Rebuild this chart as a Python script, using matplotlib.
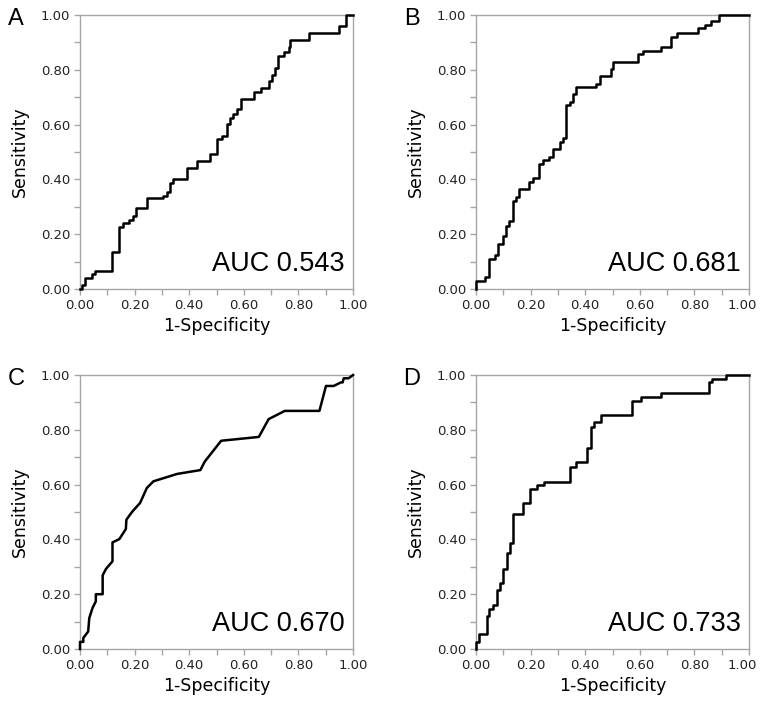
import numpy as np
import matplotlib.pyplot as plt
import matplotlib.transforms as mtransforms
from matplotlib.ticker import MultipleLocator, FormatStrFormatter

# ROC curve corners (1-specificity, sensitivity)
fpr_a = [0.0, 0.006, 0.018, 0.043, 0.055, 0.116, 0.144, 0.156, 0.181, 0.193, 0.205,
         0.244, 0.303, 0.318, 0.330, 0.340, 0.391, 0.428, 0.477, 0.501, 0.520, 0.538,
         0.550, 0.562, 0.575, 0.589, 0.638, 0.663, 0.693, 0.705, 0.713, 0.727, 0.746,
         0.764, 0.770, 0.837, 0.947, 0.976, 1.0]
tpr_a = [0.0, 0.015, 0.041, 0.054, 0.067, 0.134, 0.227, 0.240, 0.252, 0.268, 0.294,
         0.333, 0.341, 0.353, 0.386, 0.401, 0.440, 0.467, 0.493, 0.546, 0.560, 0.601,
         0.625, 0.639, 0.657, 0.692, 0.720, 0.732, 0.760, 0.780, 0.805, 0.851, 0.866,
         0.884, 0.909, 0.933, 0.960, 1.0, 1.0]

fpr_b = [0.0, 0.0, 0.033, 0.049, 0.070, 0.082, 0.098, 0.110, 0.122, 0.134, 0.146,
         0.159, 0.195, 0.207, 0.232, 0.244, 0.268, 0.283, 0.307, 0.320, 0.329, 0.344,
         0.356, 0.368, 0.441, 0.456, 0.493, 0.502, 0.594, 0.612, 0.679, 0.713, 0.738,
         0.813, 0.838, 0.862, 0.890, 1.0]
tpr_b = [0.0, 0.030, 0.045, 0.109, 0.125, 0.164, 0.192, 0.231, 0.247, 0.322, 0.337,
         0.365, 0.389, 0.405, 0.458, 0.470, 0.482, 0.510, 0.537, 0.550, 0.672, 0.683,
         0.711, 0.738, 0.750, 0.778, 0.804, 0.830, 0.857, 0.869, 0.883, 0.921, 0.936,
         0.951, 0.964, 0.978, 1.0, 1.0]

# panel C is a smoothed (tied) curve, drawn as a polyline
fpr_c = [0.0, 0.0, 0.012, 0.012, 0.030, 0.034, 0.046, 0.058, 0.058, 0.083, 0.083,
         0.095, 0.119, 0.119, 0.144, 0.168, 0.170, 0.192, 0.220, 0.245, 0.269, 0.356,
         0.441, 0.457, 0.517, 0.655, 0.691, 0.750, 0.877, 0.901, 0.929, 0.956, 0.962,
         0.966, 0.984, 1.0]
tpr_c = [0.0, 0.026, 0.026, 0.040, 0.064, 0.113, 0.150, 0.174, 0.200, 0.200, 0.269,
         0.292, 0.320, 0.389, 0.401, 0.438, 0.472, 0.502, 0.533, 0.588, 0.612, 0.639,
         0.653, 0.684, 0.760, 0.774, 0.839, 0.869, 0.869, 0.960, 0.960, 0.973, 0.973,
         0.988, 0.988, 1.0]

fpr_d = [0.0, 0.0, 0.010, 0.039, 0.049, 0.063, 0.076, 0.088, 0.098, 0.112, 0.124,
         0.137, 0.173, 0.198, 0.222, 0.249, 0.346, 0.368, 0.407, 0.420, 0.432, 0.457,
         0.570, 0.606, 0.679, 0.854, 0.866, 0.917, 1.0]
tpr_d = [0.0, 0.026, 0.055, 0.119, 0.147, 0.162, 0.214, 0.241, 0.292, 0.349, 0.387,
         0.493, 0.533, 0.585, 0.599, 0.611, 0.666, 0.681, 0.733, 0.812, 0.827, 0.853,
         0.906, 0.920, 0.934, 0.973, 0.985, 1.0, 1.0]

ticks = [0.0, 0.2, 0.4, 0.6, 0.8, 1.0]
tick_labels = ['0.00', '0.20', '0.40', '0.60', '0.80', '1.00']

panels = [
    ('A', fpr_a, tpr_a, 'AUC 0.543', 'step'),
    ('B', fpr_b, tpr_b, 'AUC 0.681', 'step'),
    ('C', fpr_c, tpr_c, 'AUC 0.670', 'line'),
    ('D', fpr_d, tpr_d, 'AUC 0.733', 'step'),
]

W, H = 762, 703
fig = plt.figure(figsize=(W / 100, H / 100), dpi=100)

# axes boxes in pixels: left, top, right, bottom
boxes = [(80, 15, 353, 289), (476, 15, 749, 289),
         (80, 375, 353, 649), (476, 375, 749, 649)]
letter_x = [16, 412, 16, 412]
spine_col = '#a6a6a6'

for (letter, x, y, auc, kind), (l, t, r, b), lx in zip(panels, boxes, letter_x):
    ax = fig.add_axes([l / W, 1 - b / H, (r - l) / W, (b - t) / H])
    if kind == 'step':
        ax.step(x, y, where='post', color='black', lw=1.8, clip_on=False, zorder=3)
    else:
        ax.plot(x, y, color='black', lw=1.8, clip_on=False, zorder=3)
    ax.set_xlim(0, 1)
    ax.set_ylim(0, 1)
    for s in ax.spines.values():
        s.set_color(spine_col)
        s.set_linewidth(1.0)
    ax.tick_params(which='both', direction='out', color=spine_col, length=4,
                   width=1.0, labelsize=9.5, labelcolor='#222222', pad=3)
    ax.set_xticks(ticks, tick_labels)
    ax.set_yticks(ticks, tick_labels)
    ax.xaxis.set_minor_locator(MultipleLocator(0.1))
    ax.yaxis.set_minor_locator(MultipleLocator(0.1))
    ax.set_xlabel('1-Specificity', fontsize=12.5, labelpad=4)
    ax.set_ylabel('Sensitivity', fontsize=12.5, labelpad=9)
    ax.text(0.97, 0.066, auc, transform=ax.transAxes, ha='right', va='baseline',
            fontsize=19.5, family='Liberation Sans')
    fig.text(lx / W, 1 - (t + 4) / H, letter, ha='center', va='center',
             fontsize=17, family='Liberation Sans')
    if l > 400:
        # keep the last x tick label inside the figure edge
        last = ax.get_xticklabels()[-1]
        last.set_ha('right')
        last.set_transform(last.get_transform() +
                           mtransforms.ScaledTranslation(8 / 100, 0, fig.dpi_scale_trans))

fig.savefig('out.png', dpi=100)
